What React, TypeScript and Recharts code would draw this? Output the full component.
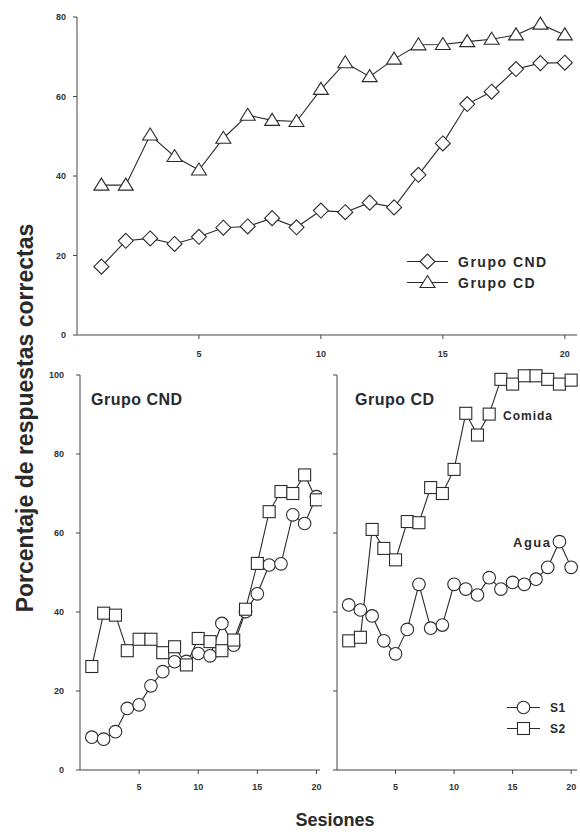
import React from 'react'
import { LineChart, Line, XAxis, YAxis, Legend } from 'recharts'

const sessions = [1, 2, 3, 4, 5, 6, 7, 8, 9, 10, 11, 12, 13, 14, 15, 16, 17, 18, 19, 20]

// panel superior: medias por grupo
const grupoCND = [17.2, 23.7, 24.3, 22.9, 24.7, 27, 27.3, 29.4, 27.1, 31.3, 30.9, 33.3, 32.1, 40.3, 48.2, 58.1, 61.2, 66.9, 68.4, 68.5]
const grupoCD = [37.7, 37.7, 50.3, 44.9, 41.5, 49.5, 55.3, 54, 53.7, 61.8, 68.5, 65, 69.4, 73, 73.1, 73.8, 74.4, 75.5, 78.2, 75.5]

// panel inferior izquierdo: Grupo CND
const cndS1 = [8.3, 7.8, 9.7, 15.6, 16.5, 21.3, 24.9, 27.4, 27.5, 29.5, 28.9, 37.1, 31.6, 40.1, 44.6, 51.9, 52.2, 64.6, 62.4, 69.2]
const cndS2 = [26.2, 39.7, 39.2, 30.2, 33.1, 33.1, 29.7, 31.2, 26.6, 33.3, 32.5, 30.2, 32.9, 40.7, 52.3, 65.4, 70.5, 70, 74.7, 68.4]

// panel inferior derecho: Grupo CD
const cdS1 = [41.8, 40.5, 39, 32.7, 29.4, 35.6, 47, 35.9, 36.7, 47, 45.8, 44.3, 48.7, 45.8, 47.5, 47, 48.3, 51.3, 57.8, 51.3]
const cdS2 = [32.7, 33.6, 60.9, 56.1, 53.2, 62.9, 62.6, 71.5, 70, 76.1, 90.3, 84.8, 90.1, 98.9, 97.7, 99.8, 99.8, 98.9, 97.7, 98.7]

const xTicks = [5, 10, 15, 20]
const yTicksTop = [0, 20, 40, 60, 80]
const yTicksBottom = [0, 20, 40, 60, 80, 100]

const topData = sessions.map((s, i) => ({ s, cnd: grupoCND[i], cd: grupoCD[i] }))
const cndData = sessions.map((s, i) => ({ s, s1: cndS1[i], s2: cndS2[i] }))
const cdData = sessions.map((s, i) => ({ s, s1: cdS1[i], s2: cdS2[i] }))

const FONT = '"Liberation Sans", Arial, sans-serif'
const INK = '#2a2a2a'
const AXIS = '#444'

type Kind = 'diamond' | 'triangle' | 'circle' | 'square'

function Marker({ kind, cx, cy }: { kind: Kind; cx: number; cy: number }) {
  const common = { fill: '#fff', stroke: INK, strokeWidth: 1.1 }
  if (kind === 'diamond') {
    return <path d={`M${cx},${cy - 7.5}L${cx + 7.5},${cy}L${cx},${cy + 7.5}L${cx - 7.5},${cy}Z`} {...common} />
  }
  if (kind === 'triangle') {
    return <path d={`M${cx},${cy - 7}L${cx + 7.5},${cy + 5}L${cx - 7.5},${cy + 5}Z`} {...common} />
  }
  if (kind === 'circle') {
    return <circle cx={cx} cy={cy} r={6.3} {...common} />
  }
  return <rect x={cx - 6} y={cy - 6} width={12} height={12} {...common} />
}

const dotOf = (kind: Kind) => (props: any) => {
  const { cx, cy, index } = props
  if (cx == null || cy == null) return <g key={index} />
  return <Marker key={index} kind={kind} cx={cx} cy={cy} />
}

const kindByKey: Record<string, Kind> = {
  cnd: 'diamond',
  cd: 'triangle',
  s1: 'circle',
  s2: 'square',
}
const legendOrder = ['cnd', 'cd', 's1', 's2']

const legendContent = (lineW: number, rowH: number, fontSize: number, spacing: number) => (props: any) => {
  const items = [...(props.payload || [])].sort(
    (a: any, b: any) => legendOrder.indexOf(a.dataKey) - legendOrder.indexOf(b.dataKey)
  )
  return (
    <div style={{ fontFamily: FONT }}>
      {items.map((p: any) => (
        <div key={p.value} style={{ display: 'flex', alignItems: 'center', height: rowH }}>
          <svg width={lineW} height={rowH} style={{ display: 'block' }}>
            <line x1={0} x2={lineW} y1={rowH / 2} y2={rowH / 2} stroke={INK} strokeWidth={1.1} />
            <Marker kind={kindByKey[p.dataKey]} cx={lineW / 2} cy={rowH / 2} />
          </svg>
          <span style={{ marginLeft: 10, fontWeight: 'bold', fontSize, letterSpacing: spacing, color: INK }}>{p.value}</span>
        </div>
      ))}
    </div>
  )
}

const tickStyle = { fontSize: 9, fontWeight: 'bold', fill: '#333', fontFamily: FONT }

export default function App() {
  return (
    <div style={{ position: 'absolute', left: 0, top: 0, width: 580, height: 832, background: '#fff', fontFamily: FONT }}>
      <div style={{ position: 'absolute', left: 0, top: 0 }}>
        <LineChart width={580} height={360} data={topData} margin={{ top: 17, right: 3, left: 0, bottom: 0 }}>
          <XAxis
            dataKey="s"
            type="number"
            domain={[0, 20.5]}
            ticks={xTicks}
            height={25}
            stroke={AXIS}
            tickSize={4}
            tickMargin={12}
            tick={tickStyle}
          />
          <YAxis
            type="number"
            domain={[0, 80]}
            ticks={yTicksTop}
            width={77}
            stroke={AXIS}
            tickSize={4}
            tickMargin={7}
            tick={tickStyle}
          />
          <Legend
            layout="vertical"
            align="center"
            verticalAlign="middle"
            wrapperStyle={{ left: 407, top: 251, width: 170 }}
            content={legendContent(41, 21, 14, 1.5)}
          />
          <Line dataKey="cnd" name="Grupo CND" stroke={INK} strokeWidth={1.1} dot={dotOf('diamond')} isAnimationActive={false} />
          <Line dataKey="cd" name="Grupo CD" stroke={INK} strokeWidth={1.1} dot={dotOf('triangle')} isAnimationActive={false} />
        </LineChart>
      </div>

      <div style={{ position: 'absolute', left: 0, top: 350 }}>
        <LineChart width={322} height={445} data={cndData} margin={{ top: 25, right: 2, left: 0, bottom: 0 }}>
          <XAxis
            dataKey="s"
            type="number"
            domain={[0, 20.3]}
            ticks={xTicks}
            height={25}
            stroke={AXIS}
            tickSize={4}
            tickMargin={10}
            tick={tickStyle}
          />
          <YAxis
            type="number"
            domain={[0, 100]}
            ticks={yTicksBottom}
            width={80}
            stroke={AXIS}
            tickSize={4}
            tickMargin={12}
            tick={tickStyle}
          />
          <Line dataKey="s1" name="S1" stroke={INK} strokeWidth={1.1} dot={dotOf('circle')} isAnimationActive={false} />
          <Line dataKey="s2" name="S2" stroke={INK} strokeWidth={1.1} dot={dotOf('square')} isAnimationActive={false} />
        </LineChart>
      </div>

      <div style={{ position: 'absolute', left: 330, top: 350 }}>
        <LineChart width={250} height={445} data={cdData} margin={{ top: 25, right: 3, left: 0, bottom: 0 }}>
          <XAxis
            dataKey="s"
            type="number"
            domain={[0, 20.5]}
            ticks={xTicks}
            height={25}
            stroke={AXIS}
            tickSize={4}
            tickMargin={10}
            tick={tickStyle}
          />
          <YAxis
            type="number"
            domain={[0, 100]}
            ticks={yTicksBottom}
            width={7}
            stroke={AXIS}
            tickSize={4}
            tickFormatter={() => ''}
          />
          <Legend
            layout="vertical"
            align="center"
            verticalAlign="middle"
            wrapperStyle={{ left: 177, top: 347, width: 70 }}
            content={legendContent(33, 21, 12, 0.5)}
          />
          <Line dataKey="s1" name="S1" stroke={INK} strokeWidth={1.1} dot={dotOf('circle')} isAnimationActive={false} />
          <Line dataKey="s2" name="S2" stroke={INK} strokeWidth={1.1} dot={dotOf('square')} isAnimationActive={false} />
        </LineChart>
      </div>

      <svg width={580} height={832} style={{ position: 'absolute', left: 0, top: 0, pointerEvents: 'none' }}>
        <g fontFamily={FONT} fontWeight="bold" fill={INK}>
          <text x={91} y={405} fontSize={16} letterSpacing={0.5}>Grupo CND</text>
          <text x={355} y={405} fontSize={16} letterSpacing={0.5}>Grupo CD</text>
          <text x={503} y={420} fontSize={12} letterSpacing={1}>Comida</text>
          <text x={513} y={547} fontSize={13} letterSpacing={1.5}>Agua</text>
          <text transform="translate(33,418) rotate(-90)" textAnchor="middle" fontSize={23}>
            Porcentaje de respuestas correctas
          </text>
          <text x={335} y={826} textAnchor="middle" fontSize={18}>Sesiones</text>
        </g>
      </svg>
    </div>
  )
}
